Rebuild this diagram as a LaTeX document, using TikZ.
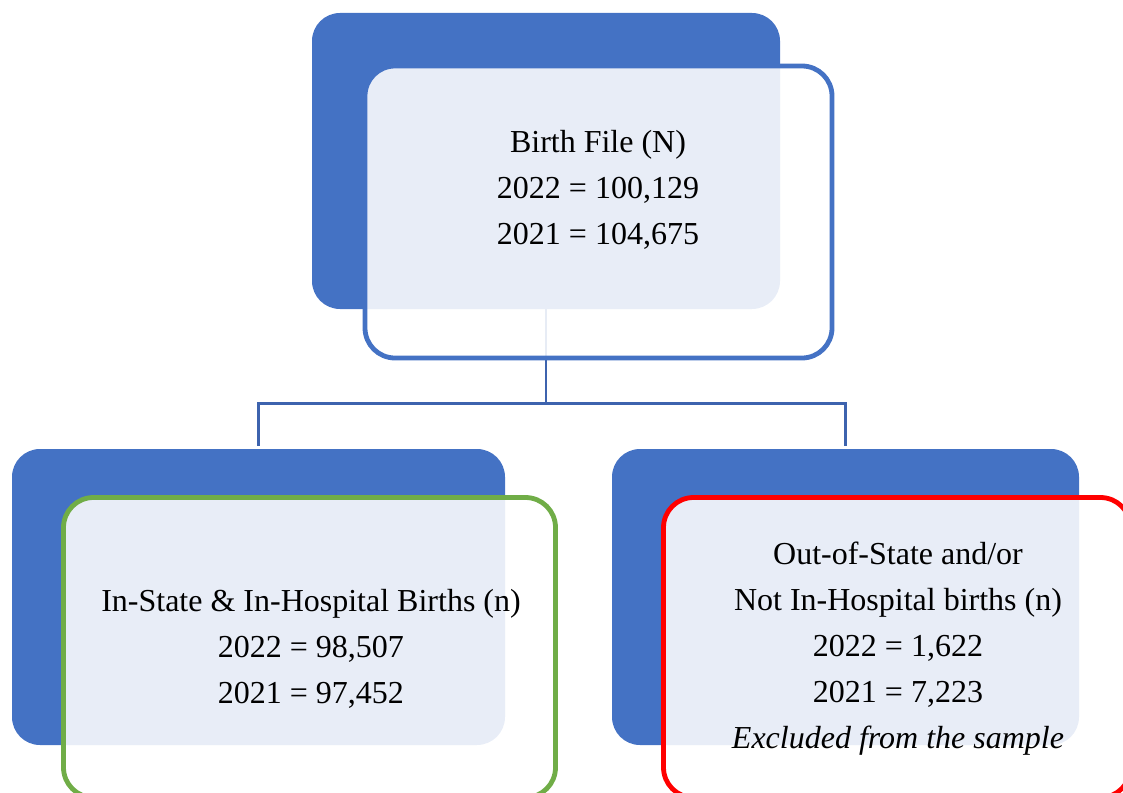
\documentclass[tikz,border=0pt]{standalone}
\usepackage{fontspec}
\setmainfont{Liberation Serif}
\definecolor{bblue}{HTML}{4472C4}
\definecolor{cblue}{HTML}{3D63AE}
\definecolor{bgreen}{HTML}{70AD47}
\definecolor{bred}{HTML}{FF0000}
\begin{document}
\begin{tikzpicture}[x=1pt,y=-1pt,
  backbox/.style={rectangle, rounded corners=28pt, fill=bblue, draw=none, inner sep=0pt, outer sep=0pt, anchor=north west},
  frontbox/.style={rectangle, rounded corners=30pt, fill=white, fill opacity=0.88, line width=4.8pt, inner sep=0pt, outer sep=0pt, anchor=north west},
  conn/.style={draw=cblue, line width=2.6pt},
  label/.style={align=center, inner sep=0pt, font=\fontsize{32}{46}\selectfont, text=black}]
\useasboundingbox (0,0) rectangle (1123,792);
% back boxes
\node[backbox, minimum width=468pt, minimum height=296pt] (topback) at (312,13) {};
\node[backbox, minimum width=493pt, minimum height=296pt] (leftback) at (12,449) {};
\node[backbox, minimum width=467pt, minimum height=296pt] (rightback) at (612,449) {};
% connectors
\coordinate (split) at ([yshift=-94.5pt]topback.south);
\draw[conn] (topback.south) -- (split);
\draw[conn] (split) -| ([yshift=3pt]leftback.north);
\draw[conn] (split) -| ([yshift=3pt]rightback.north);
% front boxes
\node[frontbox, draw=bblue, minimum width=467pt, minimum height=292pt] (topfront) at (365,66) {};
\node[frontbox, draw=bgreen, minimum width=492pt, minimum height=300pt] (leftfront) at (63.5,497.5) {};
\node[frontbox, draw=bred, minimum width=467pt, minimum height=300pt] (rightfront) at (663.5,497.5) {};
% texts
\node[label] (toptext) at (598,190) {Birth File (N)\\2022 = 100,129\\2021 = 104,675};
\node[label] (lefttext) at (311,649) {In-State \& In-Hospital Births (n)\\2022 = 98,507\\2021 = 97,452};
\node[label] (righttext) at (898,649) {Out-of-State and/or\\Not In-Hospital births (n)\\2022 = 1,622\\2021 = 7,223\\\textit{Excluded from the sample}};
\end{tikzpicture}
\end{document}
